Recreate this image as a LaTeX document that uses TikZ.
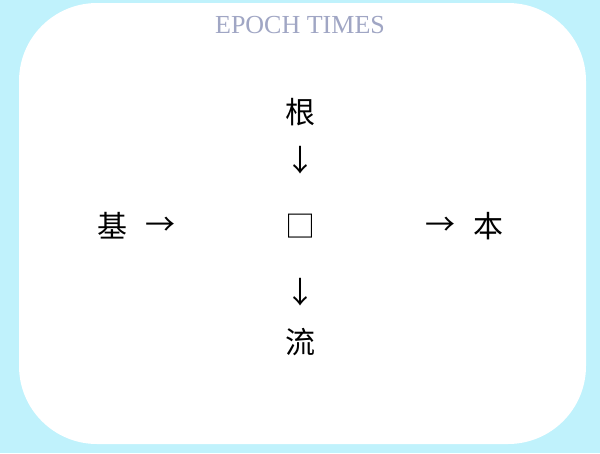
\documentclass[tikz,border=0pt]{standalone}
\usepackage{fontspec}
\setmainfont{Liberation Serif}
\newfontfamily\cjk{Noto Sans CJK SC}
\definecolor{sky}{RGB}{192,242,252}
\definecolor{epochgray}{RGB}{160,166,196}

\begin{document}
\begin{tikzpicture}[x=1pt, y=-1pt,
	every node/.style={inner sep=0pt, font=\cjk\fontsize{30}{30}\selectfont},
	masthead/.style={font=\fontsize{26}{26}\selectfont, text=epochgray}]

    % page and card
    \fill[sky] (0,0) rectangle (600,453);
    \fill[white, rounded corners=78pt] (19,3) rectangle (586,444);

    \node[masthead] (title) at (300,25) {EPOCH TIMES};

    % the vertical line
    \node (gen) at (300,112) {根};
    \node (downa) at (300,160) {↓};
    \node (box) at (300,226) {□};
    \node (downb) at (300,292) {↓};
    \node (liu) at (300,342) {流};

    % the horizontal line
    \node (ji) at (112,226) {基};
    \node (righta) at (160,226) {→};
    \node (rightb) at (440,226) {→};
    \node (ben) at (488,226) {本};
\end{tikzpicture}
\end{document}
